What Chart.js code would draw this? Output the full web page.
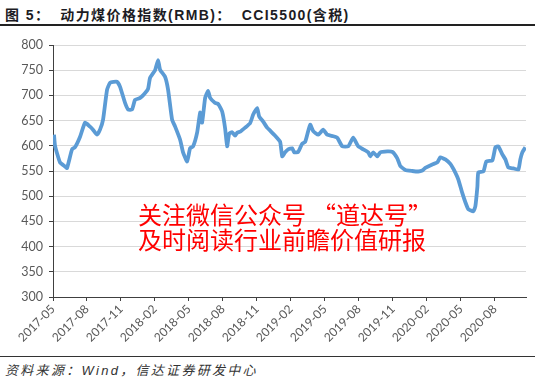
<!DOCTYPE html>
<html>
<head>
<meta charset="utf-8">
<script src="https://cdn.jsdelivr.net/npm/chart.js@4"></script>
<style>
  html, body { margin: 0; padding: 0; background: #fff; }
  #wrap { position: relative; width: 535px; height: 380px; overflow: hidden; }
  #title {
    position: absolute; left: 5px; top: 4px;
    font: bold 14px "Liberation Sans", "Noto Sans CJK SC", sans-serif;
    letter-spacing: 1.4px; color: #1c1c24; white-space: nowrap;
  }
  #title .gap { display: inline-block; width: 10px; }
  #titleRule { position: absolute; left: 0; top: 24px; width: 535px; height: 2px; background: #222; }
  #chartBox { position: absolute; left: 0; top: 30px; width: 535px; height: 320px; }
  #footRule { position: absolute; left: 0; top: 356px; width: 535px; height: 1px; background: #333; }
  #source {
    position: absolute; left: 5px; top: 360px;
    font: italic 13px "Liberation Sans", "Noto Sans CJK SC", sans-serif;
    letter-spacing: 2.3px; color: #333; white-space: nowrap;
  }
  .mark {
    position: absolute; left: 138px;
    font: 24px "Noto Sans CJK SC", sans-serif;
    color: #ff0000; white-space: nowrap; z-index: 2;
  }
  .q { display: inline-block; width: 30px; }
  .q.open { text-align: right; }
  .q.close { text-align: left; }
</style>
</head>
<body>
<div id="wrap">
  <div id="title">图 5：<span class="gap"></span>动力煤价格指数(RMB)：<span class="gap"></span>CCI5500(含税)</div>
  <div id="titleRule"></div>
  <div id="chartBox"><canvas id="coalChart" width="535" height="320"></canvas></div>
  <div class="mark" style="top:196px">关注微信公众号<span class="q open">“</span>道达号<span class="q close">”</span></div>
  <div class="mark" style="top:221px">及时阅读行业前瞻价值研报</div>
  <div id="footRule"></div>
  <div id="source">资料来源：Wind，信达证券研发中心</div>
</div>
<script>
// tick labels every 3 months, starting 2017-05
const tickLabels = ['2017-05', '2017-08', '2017-11', '2018-02', '2018-05', '2018-08', '2018-11',
    '2019-02', '2019-05', '2019-08', '2019-11', '2020-02', '2020-05', '2020-08'];

// months elapsed since 2017-05
const months = [0.09, 0.18, 0.62, 1.06, 1.24, 1.68, 1.94, 2.39, 2.83, 3.27, 3.53, 3.89, 4.15, 4.42,
    4.77, 5.04, 5.65, 5.92, 6.36, 6.63, 6.98, 7.24, 7.69, 8.13, 8.39, 8.57, 9.01, 9.28, 9.45, 9.89,
    10.16, 10.51, 10.78, 11.22, 11.48, 11.84, 12.10, 12.37, 12.72, 12.99, 13.16, 13.43, 13.69, 13.87,
    14.31, 14.58, 14.93, 15.19, 15.37, 15.55, 15.81, 16.08, 16.25, 16.52, 16.96, 17.40, 17.67, 18.02,
    18.20, 18.55, 18.90, 19.17, 19.61, 20.05, 20.23, 20.49, 20.76, 21.11, 21.29, 21.64, 21.99, 22.26,
    22.44, 22.70, 22.97, 23.41, 23.85, 24.20, 24.73, 25.09, 25.53, 26.06, 26.50, 26.94, 27.39, 27.83,
    28.00, 28.27, 28.62, 28.89, 29.51, 29.95, 30.39, 30.65, 31.10, 31.71, 32.24, 32.60, 32.86, 33.48,
    33.92, 34.19, 34.63, 35.07, 35.51, 35.78, 36.13, 36.40, 36.66, 37.10, 37.28, 37.46, 37.54, 37.99,
    38.25, 38.78, 39.05, 39.31, 39.66, 39.93, 40.19, 40.64, 41.08, 41.25, 41.43, 41.70];

// CCI5500 price, RMB/t
const prices = [622, 600, 567, 559, 556, 593, 597, 618, 646, 638, 632, 622, 632, 652,
    711, 725, 727, 717, 685, 672, 672, 691, 695, 705, 713, 735, 750, 770, 751, 737,
    711, 652, 638, 612, 587, 569, 595, 599, 626, 666, 646, 695, 709, 695,
    685, 683, 668, 635, 599, 624, 627, 620, 626, 628, 636, 645, 662, 675,
    658, 648, 636, 630, 620, 608, 579, 587, 593, 595, 587, 588, 604, 608,
    622, 642, 629, 622, 632, 622, 619, 616, 599, 599, 616, 599, 593, 587,
    579, 587, 579, 587, 589, 588, 575, 560, 552, 550, 549, 551, 556, 563,
    567, 577, 573, 564, 547, 533, 506, 488, 474, 470, 480, 519, 547, 549,
    569, 571, 597, 599, 583, 573, 557, 555, 553, 573, 587, 597];

const yMin = 300, yMax = 800, yStep = 50;
const xEnd = 41.75;

const axisColor = '#404040';
const gridColor = '#d9d9d9';
const labelColor = '#595959';

window.addEventListener('DOMContentLoaded', () => {
    const ctx = document.getElementById('coalChart').getContext('2d');
    new Chart(ctx, {
        type: 'line',
        data: {
            datasets: [{
                data: prices.map((p, i) => ({ x: months[i], y: p })),
                borderColor: '#5b9bd5',
                borderWidth: 3.8,
                pointRadius: 0,
                tension: 0.15,
                fill: false
            }]
        },
        options: {
            responsive: false,
            animation: false,
            events: [],
            layout: { padding: { top: 15, right: 9, left: 0, bottom: 0 } },
            plugins: { legend: { display: false }, tooltip: { enabled: false } },
            scales: {
                x: {
                    type: 'linear',
                    min: 0,
                    max: xEnd,
                    afterFit: s => { s.height = 53; },
                    grid: { drawOnChartArea: false, drawTicks: true, tickLength: 4, tickColor: axisColor },
                    border: { color: axisColor, width: 1 },
                    ticks: {
                        stepSize: 3,
                        includeBounds: false,
                        autoSkip: false,
                        minRotation: 45,
                        maxRotation: 45,
                        padding: 1,
                        color: labelColor,
                        font: { family: 'Lato', size: 12 },
                        callback: v => tickLabels[Math.round(v / 3)] ?? ''
                    }
                },
                y: {
                    min: yMin,
                    max: yMax,
                    afterFit: s => { s.width = 53; },
                    grid: { color: gridColor, lineWidth: 1, tickLength: 4, tickColor: axisColor },
                    border: { color: axisColor, width: 1 },
                    ticks: {
                        stepSize: yStep,
                        padding: 6,
                        color: labelColor,
                        font: { family: 'Lato', size: 12.5 }
                    }
                }
            }
        }
    });
});
</script>
</body>
</html>
